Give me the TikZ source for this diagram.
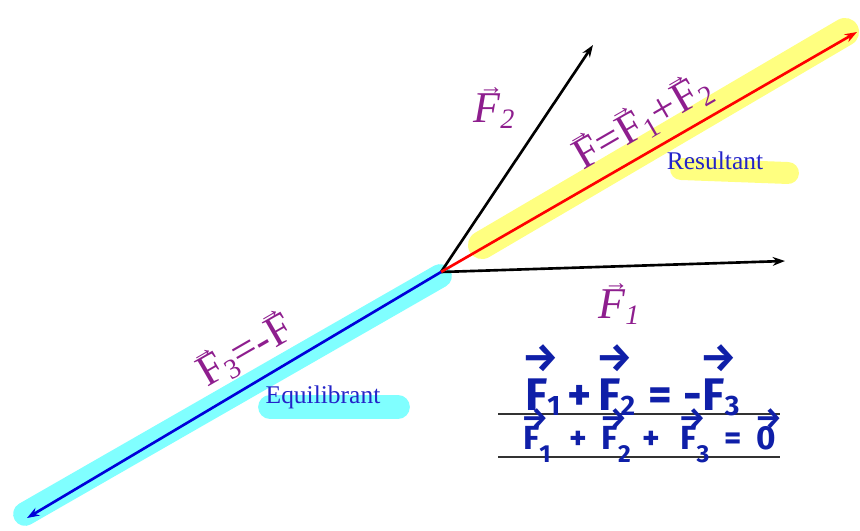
\documentclass[tikz,border=0pt]{standalone}
\usepackage{fontspec}
\usepackage{amsmath}
\setmainfont{Liberation Serif}
\newfontfamily\handfont{Fira Sans}
\usetikzlibrary{arrows.meta, positioning}
\definecolor{lblpurple}{HTML}{8E1E8E}
\definecolor{hiyellow}{HTML}{FFFF80}
\definecolor{hicyan}{HTML}{80FFFF}
\definecolor{txtblue}{HTML}{2424C8}
\definecolor{penblue}{HTML}{0F1FA8}
% arrow over a letter (printed labels)
\newcommand{\vt}[2][0pt]{\leavevmode\rlap{\kern#1\raisebox{0.62em}{\fontsize{14}{14}\selectfont →}}#2}
\newcommand{\sbs}[1]{\raisebox{-0.3ex}{\fontsize{16}{16}\selectfont #1}}
% arrow over a letter (hand written): raise, arrow size, sub drop, sub size
\newcommand{\hwset}[4]{\def\hwraise{#1}\def\hwsize{#2}\def\hwdrop{#3}\def\hwsub{#4}}
\newcommand{\hv}[2]{\leavevmode\rlap{\kern-0.05em\raisebox{\hwraise}{\fontsize{\hwsize}{\hwsize}\selectfont →}}#1\raisebox{\hwdrop}{\fontsize{\hwsub}{\hwsub}\selectfont #2}}

\begin{document}
\begin{tikzpicture}[x=0.02cm, y=-0.02cm,
    force/.style={-{Stealth[length=7pt, width=5pt]}, line width=1.5pt, #1},
    glow/.style={line width=#1, line cap=round},
    lbl/.style={text=lblpurple, font=\fontsize{25}{27}\selectfont, inner sep=1pt},
    tag/.style={text=txtblue, font=\fontsize{14.5}{16}\selectfont, inner sep=1pt},
    pen/.style={text=penblue, font=\handfont\bfseries\fontsize{#1}{#1}\selectfont, inner sep=1pt},
]
    \useasboundingbox (0,0) rectangle (860,531);

    % points of the forces
    \coordinate (o) at (441,272);
    \coordinate (f1) at (785,261);
    \coordinate (f2) at (593,45);
    \coordinate (fr) at (857,32);
    \coordinate (f3) at (27,518);

    % === highlighting ===
    \coordinate (ya) at (482,245);
    \coordinate (yb) at (845,32);
    \coordinate (ca) at (440,276);
    \coordinate (cb) at (25,514);
    \draw[glow=16pt, hiyellow] (ya) -- (yb);
    \draw[glow=13.5pt, hicyan] (ca) -- (cb);
    \coordinate (ra) at (681,169);
    \coordinate (rb) at (788,173);
    \coordinate (ea) at (270,407);
    \coordinate (eb) at (398,407);
    \draw[glow=12.5pt, hiyellow] (ra) -- (rb);
    \draw[glow=13.5pt, hicyan] (ea) -- (eb);

    % === forces ===
    \draw[force=black] (o) -- (f1);
    \draw[force=black] (o) -- (f2);
    \draw[force=red] (o) -- (fr);
    \draw[force=blue!85!black] (o) -- (f3);

    % === labels ===
    \node[lbl] (lf2) at (494,108) {\vt[0.12em]{\itshape F}\sbs{\itshape 2}};
    \node[lbl] (lf1) at (619,304) {\vt[0.12em]{\itshape F}\sbs{\itshape 1}};
    \node[lbl, rotate=30] (lfr) at (642,121) {\vt{F}=\vt{F}\sbs{1}+\vt{F}\sbs{2}};
    \node[lbl, rotate=30] (lf3) at (245,350) {\vt{F}\sbs{3}=-\vt{F}};
    \node[tag] (res) at (715,161) {Resultant};
    \node[tag] (equ) at (323,397) {Equilibrant};

    % === handwritten equations ===
    \coordinate (l1a) at (498,414);
    \coordinate (l1b) at (780,414);
    \coordinate (l2a) at (498,457);
    \coordinate (l2b) at (780,457);
    \draw[line width=1pt, black!80] (l1a) -- (l1b);
    \draw[line width=1pt, black!80] (l2a) -- (l2b);
    \node[pen=26, anchor=base west] (eq1) at (523,410) {\hwset{0.85em}{23}{-0.12em}{16}%
      \hv{F}{1}\hspace{0.15em}+\hspace{0.15em}\hv{F}{2}\hspace{0.3em}=\hspace{0.25em}-\hv{F}{3}};
    \node[pen=19, anchor=base west] (eq2) at (521,449) {\hwset{0.62em}{17}{-0.4em}{14}%
      \hv{F}{1}\hspace{0.55em}+\hspace{0.45em}\hv{F}{2}\hspace{0.35em}+\hspace{0.6em}\hv{F}{3}\hspace{0.45em}=\hspace{0.45em}\hv{0}{}};
\end{tikzpicture}
\end{document}
